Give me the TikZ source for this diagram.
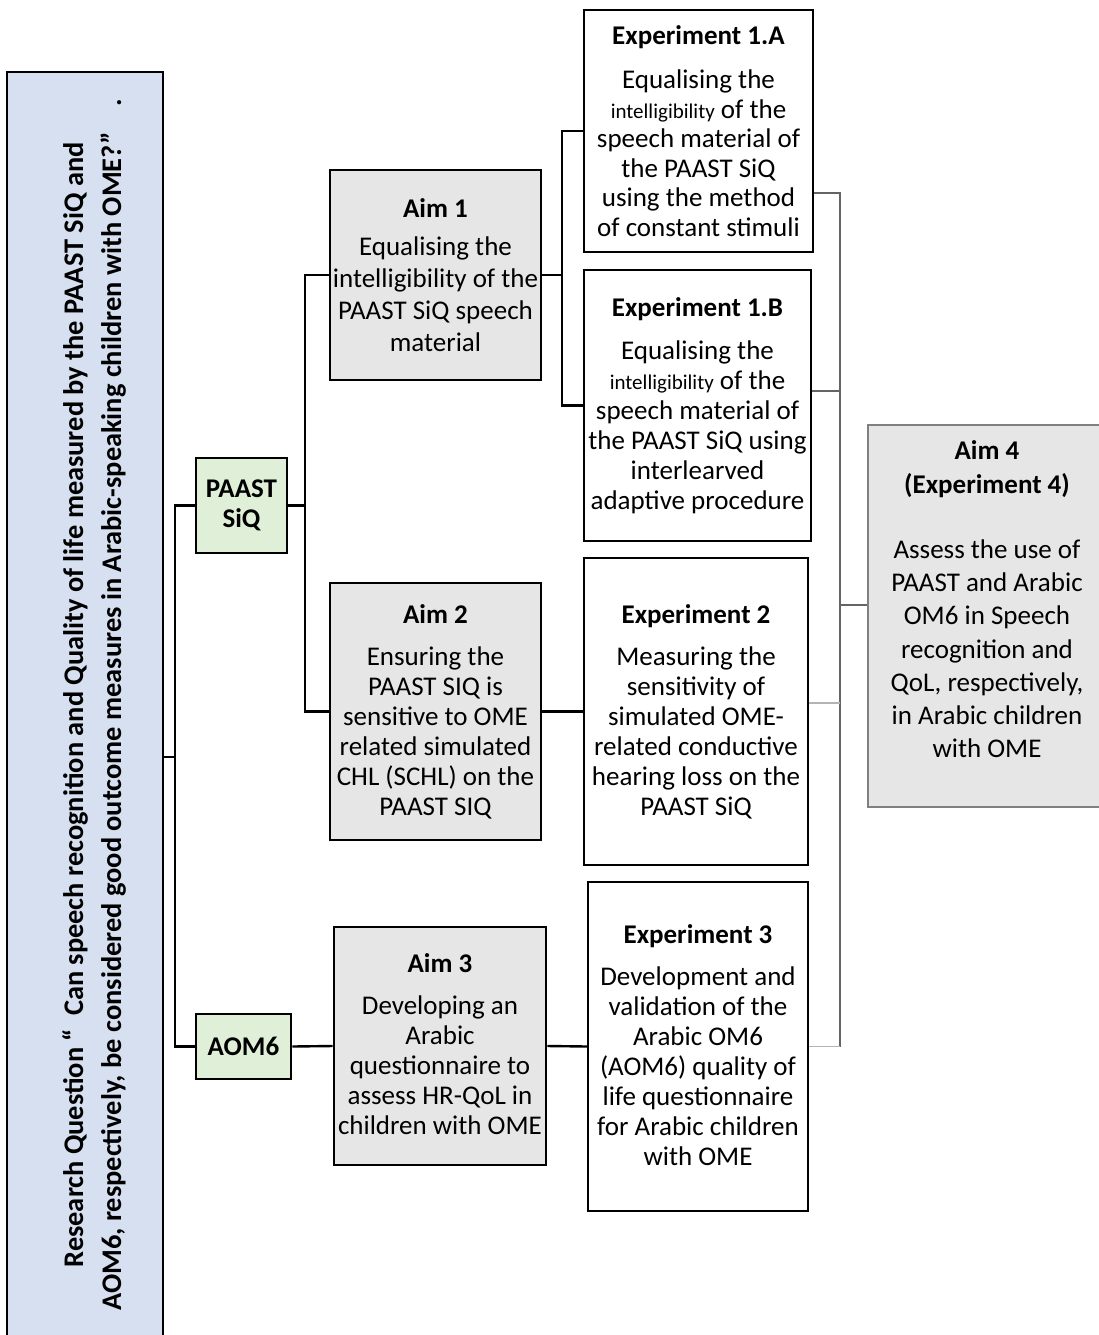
\documentclass[tikz,border=0pt]{standalone}
\usepackage{fontspec}
\setmainfont{Carlito}
\usetikzlibrary{fit}

\definecolor{rqblue}{RGB}{214,224,240}
\definecolor{toolgreen}{RGB}{224,239,216}
\definecolor{aimgray}{RGB}{231,230,230}
\definecolor{linkgray}{RGB}{100,100,100}
\definecolor{palegray}{RGB}{180,180,180}

\begin{document}
\begin{tikzpicture}[x=0.5pt,y=-0.5pt,
  frame/.style={draw=black, line width=1.3pt, inner sep=0pt},
  aimbox/.style={frame, fill=aimgray},
  expbox/.style={frame, fill=white},
  toolbox/.style={frame, fill=toolgreen},
  txt/.style={inner sep=0pt, align=center, font=\fontsize{13.5}{15}\selectfont},
  boxtext/.style={txt, anchor=north},
  link/.style={draw=black, line width=1.2pt},
  thinlink/.style={draw=linkgray, line width=0.7pt},
  palelink/.style={draw=palegray, line width=0.7pt}]

\useasboundingbox (0,0) rectangle (1099,1335);

% ---------- boxes ----------
\node[frame, fill=rqblue, line width=1pt, fit={(7,72) (163,1360)}] (rq) {};
\node[toolbox, fit={(196,458) (287,553)}] (paast) {};
\node[toolbox, fit={(196,1014) (291,1079)}] (aom6) {};
\node[aimbox, fit={(330,170) (541,380)}] (aim1) {};
\node[aimbox, fit={(330,583) (541,840)}] (aim2) {};
\node[aimbox, fit={(334,927) (546,1165)}] (aim3) {};
\node[expbox, fit={(584,10) (813,252)}] (exp1a) {};
\node[expbox, fit={(584,270) (811,541)}] (exp1b) {};
\node[expbox, line width=1pt, fit={(584,558) (808,865)}] (exp2) {};
\node[expbox, line width=1pt, fit={(588,882) (808,1211)}] (exp3) {};
\node[frame, fill=aimgray, draw=gray, line width=0.8pt, fit={(868,425) (1115,807)}] (aim4) {};

% ---------- texts ----------
\node[txt, rotate=90, font=\bfseries\fontsize{14.2}{19}\selectfont] (rqt) at (94,705)
  {Research Question “\ \ Can speech recognition and Quality of life measured by the PAAST SiQ and\\
   AOM6, respectively, be considered good outcome measures in Arabic-speaking children with OME?”\ \ \ \ .};

\node[txt, font=\bfseries\fontsize{13.5}{15}\selectfont] (paastt) at (paast.center) {PAAST\\SiQ};
\node[txt, font=\bfseries\fontsize{13.5}{15}\selectfont] (aom6t) at (aom6.center) {AOM6};

\node[boxtext, font=\fontsize{13.5}{16}\selectfont] (aim1t) at (435.5,198.5)
  {\textbf{Aim 1}\\[3pt]Equalising the\\intelligibility of the\\PAAST SiQ speech\\material};
\node[boxtext] (aim2t) at (435.5,604.5)
  {\textbf{Aim 2}\\[6pt]Ensuring the\\PAAST SIQ is\\sensitive to OME\\related simulated\\CHL (SCHL) on the\\PAAST SIQ};
\node[boxtext] (aim3t) at (440,953.5)
  {\textbf{Aim 3}\\[6pt]Developing an\\Arabic\\questionnaire to\\assess HR-QoL in\\children with OME};
\node[boxtext, font=\fontsize{13.5}{14.8}\selectfont] (exp1at) at (698.5,25.5)
  {\textbf{Experiment 1.A}\\[7pt]Equalising the\\{\fontsize{10.5}{12}\selectfont intelligibility} of the\\speech material of\\the PAAST SiQ\\using the method\\of constant stimuli};
\node[boxtext] (exp1bt) at (697.5,297.5)
  {\textbf{Experiment 1.B}\\[6.5pt]Equalising the\\{\fontsize{10.5}{12}\selectfont intelligibility} of the\\speech material of\\the PAAST SiQ using\\interlearved\\adaptive procedure};
\node[boxtext] (exp2t) at (696,604.5)
  {\textbf{Experiment 2}\\[6pt]Measuring the\\sensitivity of\\simulated OME-\\related conductive\\hearing loss on the\\PAAST SiQ};
\node[boxtext] (exp3t) at (698,924.5)
  {\textbf{Experiment 3}\\[6pt]Development and\\validation of the\\Arabic OM6\\(AOM6) quality of\\life questionnaire\\for Arabic children\\with OME};
\node[boxtext, font=\fontsize{13.5}{16.6}\selectfont] (aim4t) at (987,440)
  {\textbf{Aim 4}\\[0.4pt]\textbf{(Experiment 4)}\\[16pt]Assess the use of\\PAAST and Arabic\\OM6 in Speech\\recognition and\\QoL, respectively,\\in Arabic children\\with OME};

% ---------- connector spines and joins ----------
\coordinate (spineA) at (175,0);
\coordinate (spineB) at (305,0);
\coordinate (spineC) at (562,0);
\coordinate (spineR) at (840,0);
\coordinate (rqjoin) at (0,757);
\coordinate (r1) at (0,193);
\coordinate (r2) at (0,391);
\coordinate (r3) at (0,703);
\coordinate (r4) at (0,605);

% ---------- left tree ----------
\draw[link] (rq.east |- rqjoin) -- (spineA |- rqjoin);
\draw[link] (paast.west) -| (spineA |- aom6.west) -- (aom6.west);
\draw[link] (paast.east) -- (spineB |- paast.east);
\draw[link] (aim1.west) -| (spineB |- aim2.west) -- (aim2.west);
\draw[link] (aim1.east) -- (spineC |- aim1.east);
\draw[link] (exp1a.west) -| (spineC |- exp1b.west) -- (exp1b.west);
\draw[link] (aim2.east) -- (exp2.west);
\draw[link] (aom6.east) -- (aim3.west);
\draw[link] (aim3.east) -- (exp3.west);

% ---------- right bracket ----------
\draw[thinlink] (exp1a.east |- r1) -| (spineR |- exp3.east);
\draw[thinlink] (exp1b.east |- r2) -- (spineR |- r2);
\draw[palelink] (exp2.east |- r3) -- (spineR |- r3);
\draw[palelink] (exp3.east) -- (spineR |- exp3.east);
\draw[thinlink] (spineR |- r4) -- (aim4.west |- r4);

\end{tikzpicture}
\end{document}
